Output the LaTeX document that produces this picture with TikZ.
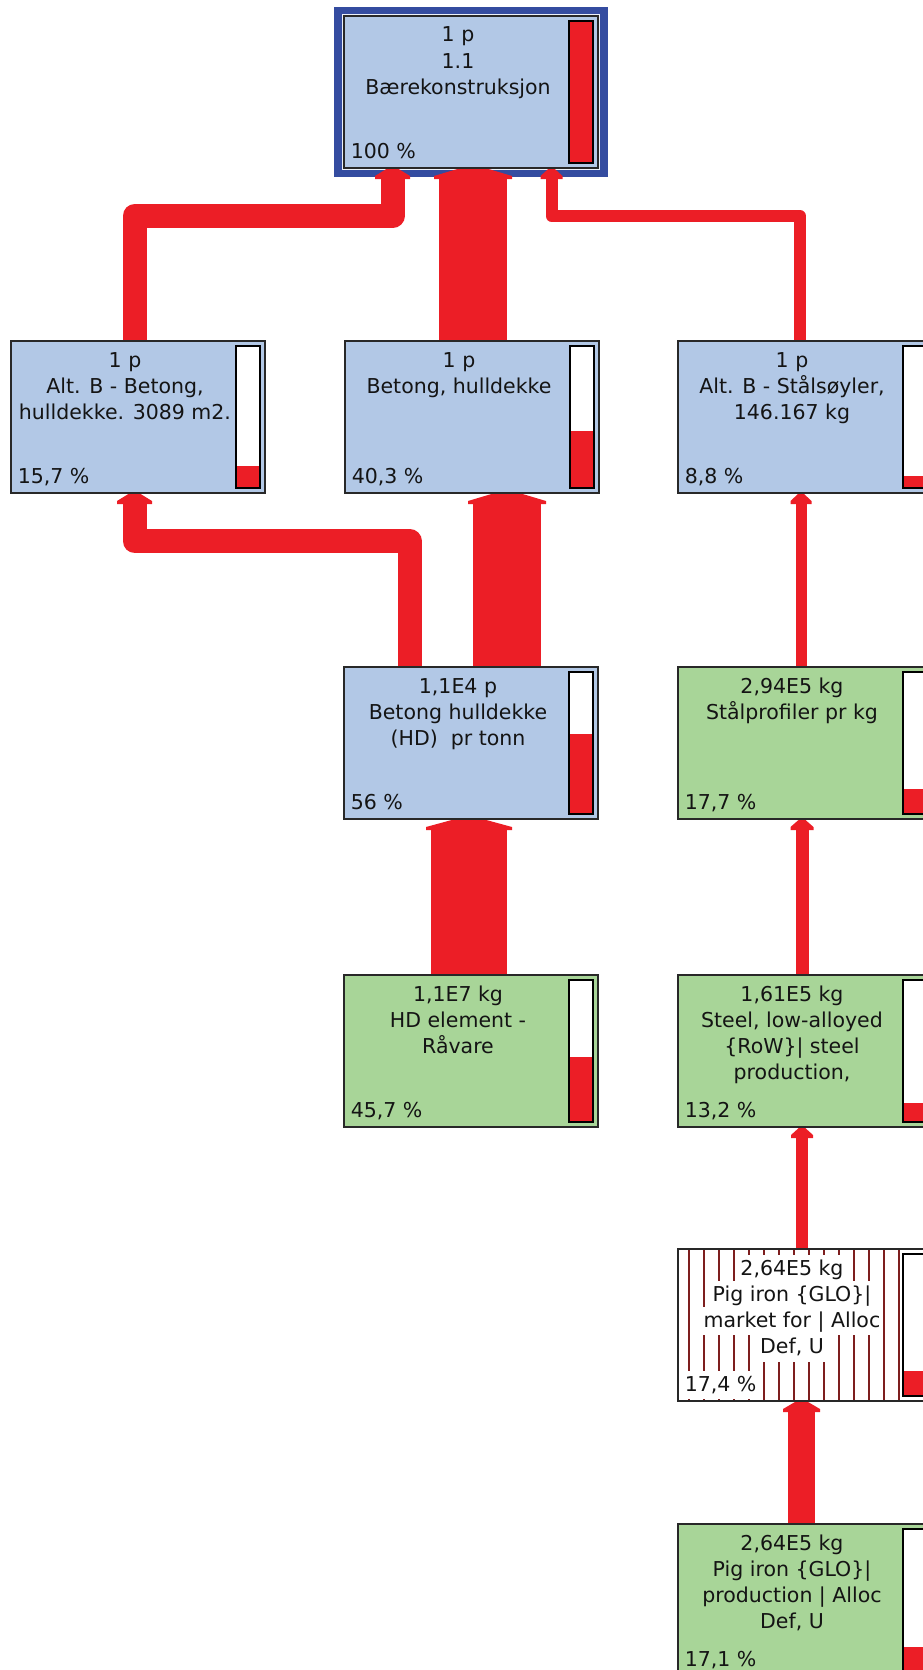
\documentclass[tikz,border=0pt]{standalone}
\usepackage{fontspec}
\setmainfont{DejaVu Sans}
\usetikzlibrary{calc}

\definecolor{boxblue}{RGB}{178,200,230}
\definecolor{boxgreen}{RGB}{168,213,152}
\definecolor{flowred}{RGB}{236,30,38}
\definecolor{frameblue}{RGB}{52,76,160}
\definecolor{hatchred}{RGB}{125,30,30}
\definecolor{boxline}{RGB}{40,40,40}
\definecolor{textcol}{RGB}{20,20,20}

\pgfdeclarelayer{back}
\pgfdeclarelayer{flows}
\pgfsetlayers{back,flows,main}

\tikzset{
  box/.style={draw=boxline, line width=1.3pt, minimum width=254pt, minimum height=152pt,
    inner sep=0pt, outer sep=0pt},
  bluebox/.style={box, fill=boxblue},
  greenbox/.style={box, fill=boxgreen},
  hatchbox/.style={box, fill=white,
    path picture={\foreach \k in {0,...,14}
      \draw[hatchred, line width=1.4pt]
        ($(path picture bounding box.north west)+({11+15*\k},0)$) -- ++(0,200);}},
  barbox/.style={minimum width=24pt, minimum height=142pt, inner sep=0pt, outer sep=0pt, fill=white},
  barline/.style={draw=black, line width=1.4pt},
  txtbg/.style={},
  txt/.style={inner sep=0.8pt, outer sep=0pt, font=\fontsize{20.5}{26}\selectfont,
    text=textcol, anchor=base, txtbg},
  flowline/.style={draw=flowred, line join=round, line cap=butt},
}

% #1 name, #2 x, #3 y, #4 style, #5 share (number), #6 share (label), #7 text lines
\newcommand{\procbox}[7]{%
  \node[#4, anchor=north west] (#1) at (#2,#3) {};
  \node[barbox, anchor=north west] (#1-bar) at ($(#1.north west)+(225,5)$) {};
  \fill[flowred] (#1-bar.south west) rectangle ($(#1-bar.south east)+(0,{-142*#5/100})$);
  \draw[barline] (#1-bar.south west) rectangle (#1-bar.north east);
  \foreach \t [count=\i] in {#7}
    \node[txt] (#1-t\i) at ($(#1.north west)+(114,{26+26.3*(\i-1)})$) {\t};
  \node[txt, anchor=base west] (#1-pct) at ($(#1.north west)+(6,142)$) {#6 \%};
}

% arrow head under the receiving process: #1 x coordinate, #2 target node, #3 shaft width
\newcommand{\roofat}[3]{%
  \fill[flowred] ($(#1 |- #2.south)+({-#3/2-5},11)$) -- ++(0,-3)
    -- ($(#1 |- #2.south)+({-#3*0.18},0)$) -- ($(#1 |- #2.south)+({#3*0.18},0)$)
    -- ($(#1 |- #2.south)+({#3/2+5},8)$) -- ++(0,3) -- cycle;
}
% straight flow: #1 source node, #2 target node, #3 x coordinate, #4 width
\newcommand{\flowup}[4]{%
  \draw[flowline, line width=#4pt] (#3 |- #1.north) -- ($(#3 |- #2.south)+(0,10)$);
  \roofat{#3}{#2}{#4}
}

\begin{document}
\begin{tikzpicture}[x=1pt,y=-1pt]
\useasboundingbox (0,0) rectangle (923,1670);

\begin{scope}
\clip (0,0) rectangle (923,1670);

% processes
\procbox{T}{344}{16}{bluebox}{100}{100}{{1 p},{1.1},{Bærekonstruksjon}}
\procbox{A}{11}{341}{bluebox}{15.7}{15,7}{{1 p},{Alt. B - Betong,},{hulldekke. 3089 m2.}}
\procbox{B}{345}{341}{bluebox}{40.3}{40,3}{{1 p},{Betong, hulldekke}}
\procbox{C}{678}{341}{bluebox}{8.8}{8,8}{{1 p},{Alt. B - Stålsøyler,},{146.167 kg}}
\procbox{D}{344}{667}{bluebox}{56}{56}{{1,1E4 p},{Betong hulldekke},{(HD)\ \ pr tonn}}
\procbox{E}{678}{667}{greenbox}{17.7}{17,7}{{2,94E5 kg},{Stålprofiler pr kg}}
\procbox{F}{344}{975}{greenbox}{45.7}{45,7}{{1,1E7 kg},{HD element -},{Råvare}}
\procbox{G}{678}{975}{greenbox}{13.2}{13,2}{{1,61E5 kg},{Steel, low-alloyed},{\{RoW\}| steel},{production,}}
\begin{scope}[txtbg/.style={fill=white, text height=19.6pt, text depth=6.8pt}]
\procbox{H}{678}{1249}{hatchbox}{17.4}{17,4}{{2,64E5 kg},{Pig iron \{GLO\}|},{market for | Alloc},{Def, U}}
\end{scope}
\procbox{I}{678}{1524}{greenbox}{17.1}{17,1}{{2,64E5 kg},{Pig iron \{GLO\}|},{production | Alloc},{Def, U}}
\end{scope}

% frame around the top process
\begin{pgfonlayer}{back}
  \fill[frameblue] ($(T.north west)+(-10,-9)$) rectangle ($(T.south east)+(10,9)$);
  \fill[white!75!boxblue] ($(T.north west)+(-1.8,-1.8)$) rectangle ($(T.south east)+(1.8,1.8)$);
\end{pgfonlayer}

% flow lanes
\coordinate (xA)  at (134.5,0);
\coordinate (xT1) at (392.5,0);
\coordinate (xT2) at (473,0);
\coordinate (xT3) at (551.5,0);
\coordinate (xC)  at (800,0);
\coordinate (xD1) at (409.5,0);
\coordinate (xD2) at (507,0);
\coordinate (xF)  at (469,0);
\coordinate (xE)  at (801,0);
\coordinate (xG)  at (802,0);
\coordinate (xH)  at (802,0);
\coordinate (xI)  at (801.5,0);
\coordinate (hy1) at (0,216);
\coordinate (hy2) at (0,541);

\begin{pgfonlayer}{flows}
  % into the top process
  \draw[flowline, line width=24pt] (xA |- A.north) -- (xA |- hy1) -- (xT1 |- hy1)
    -- ($(xT1 |- T.south)+(0,10)$);
  \roofat{xT1}{T}{25}
  \flowup{B}{T}{xT2}{68}
  \draw[flowline, line width=12pt] (xC |- C.north) -- (xC |- hy1) -- (xT3 |- hy1)
    -- ($(xT3 |- T.south)+(0,10)$);
  \roofat{xT3}{T}{12}
  % concrete chain
  \draw[flowline, line width=24pt] (xD1 |- D.north) -- (xD1 |- hy2) -- (xA |- hy2)
    -- ($(xA |- A.south)+(0,10)$);
  \roofat{xA}{A}{25}
  \flowup{D}{B}{xD2}{68}
  \flowup{F}{D}{xF}{76}
  % steel chain
  \flowup{E}{C}{xE}{11}
  \flowup{G}{E}{xG}{13}
  \flowup{H}{G}{xH}{12}
  \flowup{I}{H}{xI}{27}
\end{pgfonlayer}
\end{tikzpicture}
\end{document}
